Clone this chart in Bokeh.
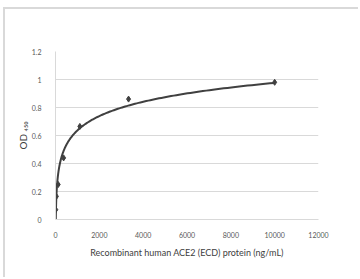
import numpy as np
from bokeh.plotting import figure
from bokeh.models import FixedTicker, CustomJSTickFormatter
from bokeh.embed import file_html
from bokeh.resources import INLINE

# Data
conc = [13.7, 41.2, 123.5, 370.4, 1111.1, 3333.3, 10000.0]
od = [0.07, 0.165, 0.25, 0.44, 0.665, 0.86, 0.98]
x_ticks = [0, 2000, 4000, 6000, 8000, 10000, 12000]
y_ticks = [0, 0.2, 0.4, 0.6, 0.8, 1, 1.2]

# Logarithmic trendline fitted to the data (as in the original spreadsheet chart)
slope, intercept = np.polyfit(np.log(conc), od, 1)
fit_x = np.geomspace(min(conc), max(conc), 300)
fit_y = slope * np.log(fit_x) + intercept

FONT = "Lato"
TXT = "#595959"
GRID = "#d9d9d9"

p = figure(width=355, height=270, output_backend="svg", toolbar_location=None,
           x_range=(0, 12000), y_range=(0, 1.2),
           min_border_left=50, min_border_top=42, min_border_right=42,
           min_border_bottom=60)
p.styles = {"margin-left": "3px", "margin-top": "7px",
            "border-left": "2px solid #d9d9d9", "border-top": "2px solid #d9d9d9"}
p.outline_line_color = None
p.background_fill_color = "white"
p.border_fill_color = "white"

p.line(fit_x, fit_y, line_color="#404040", line_width=2)
p.scatter(conc, od, marker="diamond", size=6, fill_color="#404040", line_color="#404040")

p.xaxis.ticker = FixedTicker(ticks=x_ticks)
p.yaxis.ticker = FixedTicker(ticks=y_ticks)
p.yaxis.formatter = CustomJSTickFormatter(code="return tick.toString();")
p.xgrid.grid_line_color = None
p.ygrid.grid_line_color = GRID
p.ygrid.grid_line_width = 1

for ax in (p.xaxis[0], p.yaxis[0]):
    ax.axis_line_color = GRID
    ax.major_tick_line_color = None
    ax.minor_tick_line_color = None
    ax.major_label_text_font = FONT
    ax.major_label_text_font_size = "7px"
    ax.major_label_text_color = TXT
    ax.axis_label_text_font = FONT
    ax.axis_label_text_font_style = "normal"
    ax.axis_label_text_color = "#404040"
    ax.axis_label_text_font_size = "9px"

p.xaxis.major_label_standoff = 6
p.yaxis.major_label_standoff = 8
p.xaxis.axis_label = "Recombinant human ACE2 (ECD) protein (ng/mL)"
p.yaxis.axis_label = "OD ₄₅₀"
p.yaxis.axis_label_text_font_size = "10px"
p.xaxis.axis_label_standoff = 6
p.yaxis.axis_label_standoff = 0

open("out.html", "w").write(file_html(p, INLINE))
